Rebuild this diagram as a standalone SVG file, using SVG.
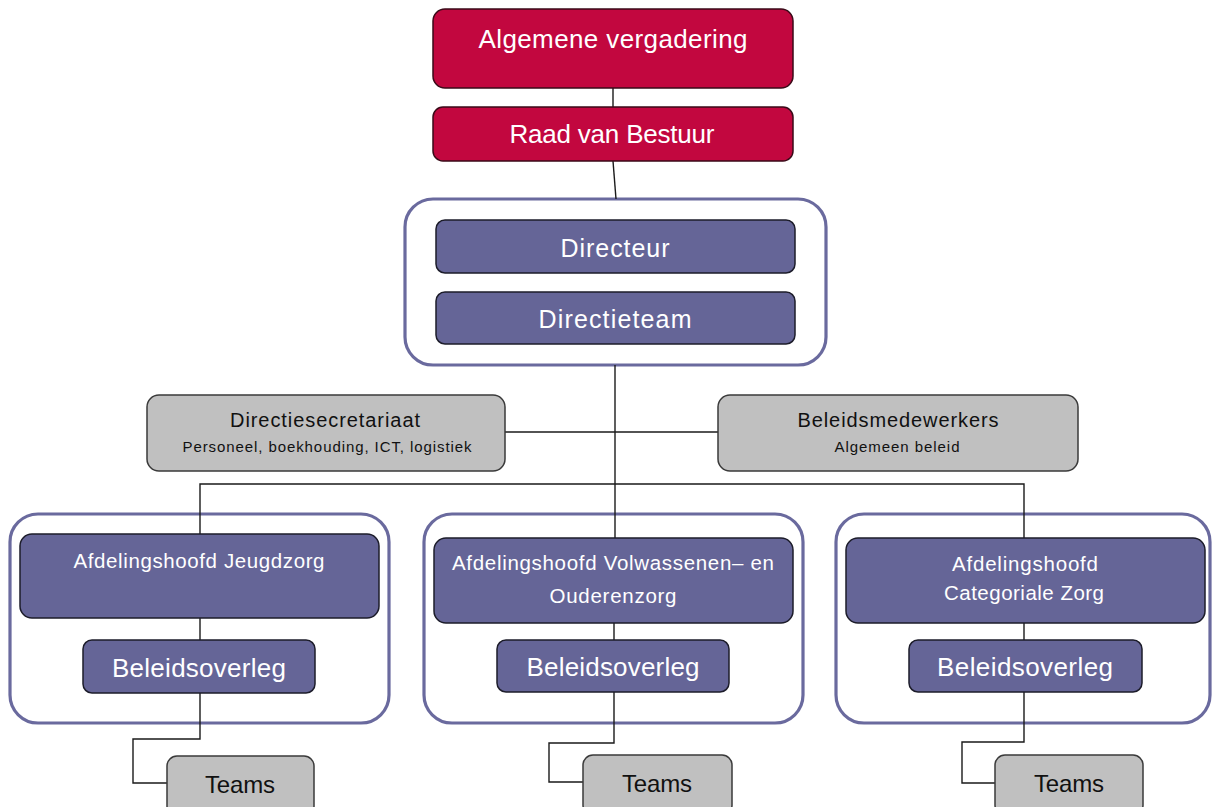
<svg xmlns="http://www.w3.org/2000/svg" width="1213" height="807" viewBox="0 0 1213 807">
<style>
.red{fill:#c2073f;stroke:#3a0a18;stroke-width:1.5}
.pur{fill:#656597;stroke:#1c1c2a;stroke-width:1.5}
.gry{fill:#c0c0c0;stroke:#3a3a3a;stroke-width:1.5}
.cont{fill:#ffffff;stroke:#6a6a9e;stroke-width:3.2}
.w{fill:#ffffff;font-family:"Liberation Sans",Arial,sans-serif;text-anchor:middle}
.k{fill:#111111;font-family:"Liberation Sans",Arial,sans-serif;text-anchor:middle}
.con{fill:none;stroke:#1a1a1a;stroke-width:1.4}
</style>
<rect width="1213" height="807" fill="#ffffff"/>
<g id="containers">
<rect id="c-directie" class="cont" x="405" y="199" width="421" height="166" rx="28"/>
<rect id="c-jeugd" class="cont" x="10" y="514" width="379" height="209" rx="28"/>
<rect id="c-volw" class="cont" x="424" y="514" width="379" height="209" rx="28"/>
<rect id="c-cat" class="cont" x="836" y="514" width="374" height="209" rx="28"/>
</g>
<g id="connectors" class="con">
<line x1="613" y1="88" x2="613" y2="107"/>
<line x1="613" y1="161" x2="616" y2="199"/>
<line x1="615" y1="365" x2="615" y2="538"/>
<line x1="505" y1="432" x2="718" y2="432"/>
<polyline points="200,534 200,484 1024,484 1024,538"/>
<line x1="200" y1="618" x2="200" y2="640"/>
<polyline points="200,693 200,739 133,739 133,783 167,783"/>
<line x1="614" y1="623" x2="614" y2="640"/>
<polyline points="614,692 614,743 549,743 549,782 583,782"/>
<line x1="1024" y1="623" x2="1024" y2="640"/>
<polyline points="1024,692 1024,742 962,742 962,783 995,783"/>
</g>
<g id="algemene-vergadering">
<rect class="red" x="433" y="9" width="360" height="79" rx="12"/>
<text class="w" x="613" y="48" font-size="26" textLength="269">Algemene vergadering</text>
</g>
<g id="raad-van-bestuur">
<rect class="red" x="433" y="107" width="360" height="54" rx="10"/>
<text class="w" x="612" y="143" font-size="26" textLength="205">Raad van Bestuur</text>
</g>
<g id="directeur">
<rect class="pur" x="436" y="220" width="359" height="53" rx="9"/>
<text class="w" x="615" y="257" font-size="25" textLength="109">Directeur</text>
</g>
<g id="directieteam">
<rect class="pur" x="436" y="292" width="359" height="52" rx="9"/>
<text class="w" x="615" y="328" font-size="25" textLength="153">Directieteam</text>
</g>
<g id="directiesecretariaat">
<rect class="gry" x="147" y="395" width="358" height="76" rx="12"/>
<text class="k" x="325" y="427" font-size="20" textLength="190">Directiesecretariaat</text>
<text class="k" x="327" y="452" font-size="15" textLength="289">Personeel, boekhouding, ICT, logistiek</text>
</g>
<g id="beleidsmedewerkers">
<rect class="gry" x="718" y="395" width="360" height="76" rx="12"/>
<text class="k" x="898" y="427" font-size="20" textLength="201">Beleidsmedewerkers</text>
<text class="k" x="897" y="452" font-size="15" textLength="125">Algemeen beleid</text>
</g>
<g id="afd-jeugdzorg">
<rect class="pur" x="20" y="534" width="359" height="84" rx="12"/>
<text class="w" x="199" y="568" font-size="20.5" textLength="251">Afdelingshoofd Jeugdzorg</text>
</g>
<g id="beleidsoverleg-jeugd">
<rect class="pur" x="83" y="640" width="232" height="53" rx="9"/>
<text class="w" x="199" y="677" font-size="26" textLength="174">Beleidsoverleg</text>
</g>
<g id="teams-jeugd">
<rect class="gry" x="167" y="756" width="147" height="60" rx="10"/>
<text class="k" x="240" y="793" font-size="24" textLength="70">Teams</text>
</g>
<g id="afd-volwassenen">
<rect class="pur" x="434" y="538" width="359" height="85" rx="12"/>
<text class="w" x="613" y="570" font-size="20.5" textLength="322">Afdelingshoofd Volwassenen– en</text>
<text class="w" x="613" y="603" font-size="20.5" textLength="127">Ouderenzorg</text>
</g>
<g id="beleidsoverleg-volw">
<rect class="pur" x="497" y="640" width="232" height="52" rx="9"/>
<text class="w" x="613" y="676" font-size="26" textLength="173">Beleidsoverleg</text>
</g>
<g id="teams-volw">
<rect class="gry" x="583" y="755" width="149" height="60" rx="10"/>
<text class="k" x="657" y="792" font-size="24" textLength="70">Teams</text>
</g>
<g id="afd-categoriaal">
<rect class="pur" x="846" y="538" width="359" height="85" rx="12"/>
<text class="w" x="1025" y="571" font-size="20.5" textLength="146">Afdelingshoofd</text>
<text class="w" x="1024" y="600" font-size="20.5" textLength="160">Categoriale Zorg</text>
</g>
<g id="beleidsoverleg-cat">
<rect class="pur" x="909" y="640" width="233" height="52" rx="9"/>
<text class="w" x="1025" y="676" font-size="26" textLength="176">Beleidsoverleg</text>
</g>
<g id="teams-cat">
<rect class="gry" x="995" y="755" width="148" height="60" rx="10"/>
<text class="k" x="1069" y="792" font-size="24" textLength="70">Teams</text>
</g>
</svg>
